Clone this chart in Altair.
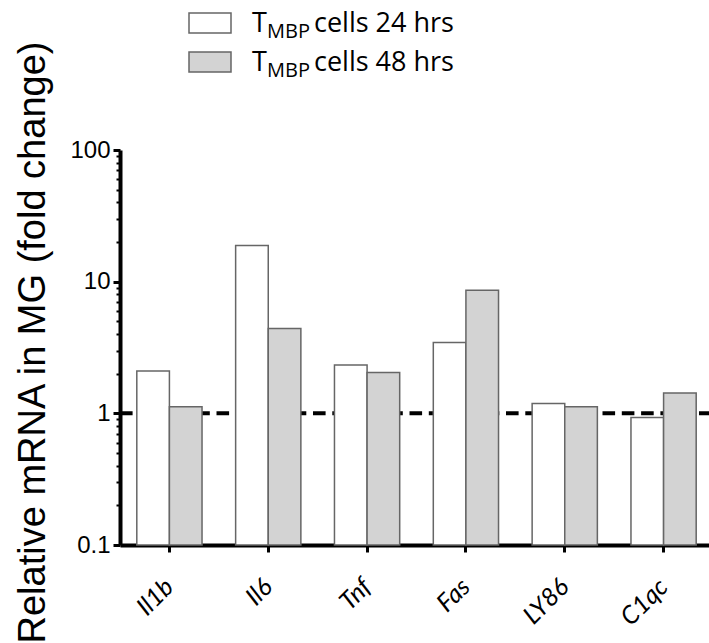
import altair as alt
import pandas as pd

# ---- data ----
genes = ["Il1b", "Il6", "Tnf", "Fas", "LY86", "C1qc"]
vals_24 = [2.10, 18.8, 2.33, 3.45, 1.19, 0.93]
vals_48 = [1.12, 4.41, 2.04, 8.61, 1.12, 1.43]
series = ["TMBP cells 24 hrs", "TMBP cells 48 hrs"]
legend_main = ["T", "T"]
legend_sub = ["MBP", "MBP"]
legend_rest = ["cells 24 hrs", "cells 48 hrs"]
y_ticks = [0.1, 0.2, 0.3, 0.4, 0.5, 0.6, 0.7, 0.8, 0.9,
           1, 2, 3, 4, 5, 6, 7, 8, 9,
           10, 20, 30, 40, 50, 60, 70, 80, 90, 100]
ref_line = [1]
bar_base = 0.1

df = pd.DataFrame({
    "gene": genes * 2,
    "series": [series[0]] * len(genes) + [series[1]] * len(genes),
    "value": vals_24 + vals_48,
})
genes_df = pd.DataFrame({"gene": genes})

W, H = 589, 395
XR = 593

major_test = "indexof([0.1, 1, 10, 100], datum.value) >= 0"

yscale = alt.Scale(type="log", domain=[0.1, 100], nice=False)
xscale = alt.Scale(domain=genes, paddingInner=0.34, paddingOuter=0.17, range=[0, XR])

yaxis = alt.Axis(
    values=y_ticks,
    labelExpr="indexof([0.1, 1, 10, 100], datum.value) >= 0 ? toString(datum.value) : ''",
    labelFont="Liberation Sans", labelFontSize=24, labelColor="black",
    labelPadding=3, labelOverlap=False, labelFlush=False,
    domainColor="black", domainWidth=4,
    tickColor="black",
    tickSize={"condition": {"test": major_test, "value": 7}, "value": 4},
    tickWidth={"condition": {"test": major_test, "value": 3}, "value": 2},
    grid=False,
    title="Relative mRNA in MG (fold change)",
    titleFont="Liberation Sans", titleFontSize=38, titleFontWeight="normal",
    titleColor="black", titleAngle=270, titleAlign="center",
    titleBaseline="alphabetic", titleX=-76, titleY=192,
)

xaxis = alt.Axis(
    title=None, labels=False,
    domainColor="black", domainWidth=4, grid=False,
    tickColor="black", tickWidth=3, tickSize=7,
)

color_scale = alt.Scale(domain=series, range=["white", "#d3d3d3"])

rule = alt.Chart(pd.DataFrame({"value": ref_line})).mark_rule(
    color="black", strokeWidth=4, strokeDash=[12.6, 6.7]
).encode(
    y=alt.Y("value:Q", scale=yscale, axis=yaxis),
    x=alt.value(0),
    x2=alt.value(XR),
)

bars = alt.Chart(df).mark_bar(stroke="#666666", strokeWidth=1.5).encode(
    x=alt.X("gene:N", sort=genes, scale=xscale, axis=xaxis),
    xOffset=alt.XOffset("series:N", sort=series,
                        scale=alt.Scale(paddingInner=0, paddingOuter=0)),
    y=alt.Y("value:Q", scale=yscale, axis=yaxis),
    y2=alt.datum(bar_base),
    color=alt.Color("series:N", scale=color_scale, legend=None),
)

# gene names, rotated 45 degrees (reading upward to the right) below each group
xlabels = alt.Chart(genes_df).mark_text(
    align="right", baseline="middle", angle=315,
    font="Lato", fontStyle="italic", fontSize=25, color="black",
).encode(
    x=alt.X("gene:N", sort=genes, scale=xscale, axis=xaxis),
    y=alt.value(H + 38),
    text="gene:N",
)

legend_layers = []
for i in range(2):
    ldf = pd.DataFrame({
        "series": [series[i]],
        "main": [legend_main[i]],
        "sub": [legend_sub[i]],
        "rest": [legend_rest[i]],
    })
    dy = 39 * i
    base = alt.Chart(ldf)
    legend_layers.append(
        base.mark_rect(stroke="#666666", strokeWidth=1.5).encode(
            x=alt.value(69), x2=alt.value(111),
            y=alt.value(-137 + dy), y2=alt.value(-117 + dy),
            color=alt.Color("series:N", scale=color_scale, legend=None),
        )
    )
    legend_layers.append(
        base.mark_text(font="Open Sans", fontSize=27, align="left",
                       baseline="alphabetic", color="black").encode(
            text="main:N", x=alt.value(132), y=alt.value(-118 + dy))
    )
    legend_layers.append(
        base.mark_text(font="Open Sans", fontSize=20, align="left",
                       baseline="alphabetic", color="black").encode(
            text="sub:N", x=alt.value(147), y=alt.value(-112 + dy))
    )
    legend_layers.append(
        base.mark_text(font="Open Sans", fontSize=27, align="left",
                       baseline="alphabetic", color="black").encode(
            text="rest:N", x=alt.value(194), y=alt.value(-118 + dy))
    )

chart = alt.layer(rule, bars, xlabels, *legend_layers).properties(
    width=W, height=H,
    background="white",
    padding={"left": 120, "top": 150, "right": 0, "bottom": 98},
    autosize=alt.AutoSizeParams(type="none"),
).configure_view(stroke=None)

chart.save("out.html", embed_options={"renderer": "svg", "actions": False})
